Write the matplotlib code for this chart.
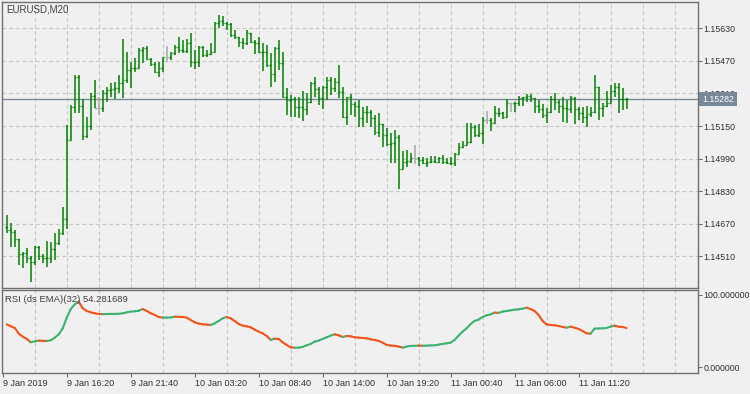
import matplotlib
matplotlib.use('Agg')
import matplotlib.pyplot as plt
import matplotlib.transforms as mtransforms
from matplotlib.collections import LineCollection
import numpy as np

#%% Data (EURUSD M20)
open_ = [1.14656, 1.14639, 1.14628, 1.14593, 1.14521, 1.14525, 1.14500, 1.14484, 1.14557, 1.14512,
         1.14500, 1.14503, 1.14544, 1.14574, 1.14623, 1.14692, 1.15081, 1.15242, 1.15389, 1.15248,
         1.15101, 1.15152, 1.15297, 1.15237, 1.15237, 1.15310, 1.15327, 1.15330, 1.15335, 1.15360,
         1.15376, 1.15425, 1.15433, 1.15436, 1.15523, 1.15532, 1.15478, 1.15455, 1.15417, 1.15433,
         1.15487, 1.15487, 1.15507, 1.15540, 1.15523, 1.15520, 1.15556, 1.15466, 1.15463, 1.15540,
         1.15499, 1.15502, 1.15515, 1.15658, 1.15668, 1.15658, 1.15651, 1.15597, 1.15586, 1.15564,
         1.15559, 1.15605, 1.15564, 1.15556, 1.15515, 1.15512, 1.15450, 1.15406, 1.15532, 1.15461,
         1.15294, 1.15278, 1.15281, 1.15242, 1.15245, 1.15232, 1.15270, 1.15363, 1.15330, 1.15286,
         1.15340, 1.15376, 1.15335, 1.15368, 1.15319, 1.15196, 1.15291, 1.15258, 1.15248, 1.15188,
         1.15220, 1.15217, 1.15188, 1.15122, 1.15160, 1.15106, 1.15062, 1.15065, 1.15094, 1.14937,
         1.14975, 1.14978, 1.14991, 1.14991, 1.14983, 1.14970, 1.14975, 1.14980, 1.14975, 1.14991,
         1.14975, 1.14970, 1.14967, 1.15013, 1.15049, 1.15057, 1.15073, 1.15147, 1.15106, 1.15117,
         1.15180, 1.15180, 1.15166, 1.15212, 1.15216, 1.15196, 1.15261, 1.15261, 1.15264, 1.15286,
         1.15291, 1.15297, 1.15286, 1.15248, 1.15232, 1.15204, 1.15220, 1.15281, 1.15270, 1.15248,
         1.15237, 1.15234, 1.15286, 1.15232, 1.15212, 1.15196, 1.15209, 1.15220, 1.15340, 1.15237,
         1.15248, 1.15261, 1.15324, 1.15340, 1.15281, 1.15284]

high = [1.14713, 1.14675, 1.14639, 1.14595, 1.14530, 1.14549, 1.14512, 1.14561, 1.14561, 1.14521,
        1.14587, 1.14582, 1.14623, 1.14643, 1.14754, 1.15155, 1.15253, 1.15401, 1.15401, 1.15281,
        1.15196, 1.15310, 1.15376, 1.15294, 1.15327, 1.15340, 1.15363, 1.15368, 1.15401, 1.15576,
        1.15515, 1.15466, 1.15482, 1.15532, 1.15540, 1.15543, 1.15482, 1.15466, 1.15466, 1.15491,
        1.15543, 1.15515, 1.15548, 1.15586, 1.15573, 1.15576, 1.15605, 1.15523, 1.15543, 1.15543,
        1.15523, 1.15559, 1.15663, 1.15695, 1.15690, 1.15663, 1.15654, 1.15622, 1.15586, 1.15581,
        1.15622, 1.15605, 1.15573, 1.15589, 1.15556, 1.15548, 1.15507, 1.15540, 1.15573, 1.15515,
        1.15335, 1.15302, 1.15294, 1.15294, 1.15324, 1.15314, 1.15368, 1.15389, 1.15340, 1.15347,
        1.15389, 1.15389, 1.15384, 1.15450, 1.15343, 1.15294, 1.15307, 1.15270, 1.15278, 1.15242,
        1.15248, 1.15229, 1.15204, 1.15212, 1.15160, 1.15139, 1.15117, 1.15130, 1.15106, 1.15029,
        1.15032, 1.15019, 1.15057, 1.14999, 1.14996, 1.14991, 1.15003, 1.15003, 1.14999, 1.15008,
        1.14991, 1.14996, 1.15019, 1.15065, 1.15078, 1.15166, 1.15166, 1.15155, 1.15160, 1.15196,
        1.15225, 1.15188, 1.15248, 1.15237, 1.15220, 1.15281, 1.15261, 1.15270, 1.15297, 1.15294,
        1.15307, 1.15307, 1.15286, 1.15278, 1.15258, 1.15237, 1.15297, 1.15314, 1.15278, 1.15291,
        1.15278, 1.15297, 1.15294, 1.15245, 1.15242, 1.15248, 1.15242, 1.15401, 1.15343, 1.15261,
        1.15324, 1.15351, 1.15360, 1.15360, 1.15335, 1.15286]

low = [1.14623, 1.14554, 1.14554, 1.14467, 1.14451, 1.14475, 1.14385, 1.14467, 1.14492, 1.14475,
       1.14459, 1.14475, 1.14492, 1.14566, 1.14615, 1.14643, 1.15081, 1.15212, 1.15212, 1.15081,
       1.15090, 1.15130, 1.15237, 1.15204, 1.15220, 1.15270, 1.15294, 1.15281, 1.15310, 1.15286,
       1.15360, 1.15335, 1.15417, 1.15450, 1.15458, 1.15474, 1.15445, 1.15409, 1.15389, 1.15417,
       1.15466, 1.15474, 1.15499, 1.15510, 1.15507, 1.15510, 1.15442, 1.15428, 1.15442, 1.15491,
       1.15487, 1.15499, 1.15540, 1.15630, 1.15641, 1.15622, 1.15586, 1.15576, 1.15540, 1.15527,
       1.15548, 1.15556, 1.15504, 1.15510, 1.15422, 1.15442, 1.15340, 1.15368, 1.15425, 1.15286,
       1.15204, 1.15196, 1.15193, 1.15188, 1.15176, 1.15204, 1.15261, 1.15294, 1.15253, 1.15232,
       1.15278, 1.15302, 1.15319, 1.15286, 1.15188, 1.15155, 1.15204, 1.15196, 1.15144, 1.15147,
       1.15163, 1.15147, 1.15106, 1.15098, 1.15049, 1.15052, 1.14970, 1.14970, 1.14839, 1.14937,
       1.14950, 1.14967, 1.14963, 1.14954, 1.14963, 1.14947, 1.14967, 1.14970, 1.14970, 1.14963,
       1.14963, 1.14958, 1.14954, 1.15013, 1.15040, 1.15057, 1.15065, 1.15098, 1.15098, 1.15062,
       1.15160, 1.15127, 1.15163, 1.15193, 1.15183, 1.15193, 1.15220, 1.15220, 1.15248, 1.15248,
       1.15270, 1.15270, 1.15212, 1.15216, 1.15188, 1.15163, 1.15212, 1.15229, 1.15212, 1.15171,
       1.15166, 1.15212, 1.15160, 1.15180, 1.15163, 1.15147, 1.15196, 1.15216, 1.15180, 1.15193,
       1.15242, 1.15281, 1.15294, 1.15216, 1.15229, 1.15232]

close = [1.14639, 1.14628, 1.14593, 1.14521, 1.14525, 1.14500, 1.14484, 1.14557, 1.14512, 1.14500,
         1.14503, 1.14544, 1.14574, 1.14623, 1.14692, 1.15081, 1.15242, 1.15389, 1.15248, 1.15101,
         1.15152, 1.15297, 1.15237, 1.15237, 1.15310, 1.15327, 1.15330, 1.15335, 1.15360, 1.15376,
         1.15425, 1.15433, 1.15436, 1.15523, 1.15532, 1.15478, 1.15455, 1.15417, 1.15433, 1.15487,
         1.15487, 1.15507, 1.15540, 1.15523, 1.15520, 1.15556, 1.15466, 1.15463, 1.15540, 1.15499,
         1.15502, 1.15515, 1.15658, 1.15668, 1.15658, 1.15651, 1.15597, 1.15586, 1.15564, 1.15559,
         1.15605, 1.15564, 1.15556, 1.15515, 1.15512, 1.15450, 1.15406, 1.15532, 1.15461, 1.15294,
         1.15278, 1.15281, 1.15242, 1.15245, 1.15232, 1.15270, 1.15363, 1.15330, 1.15286, 1.15340,
         1.15376, 1.15335, 1.15368, 1.15319, 1.15196, 1.15291, 1.15258, 1.15248, 1.15188, 1.15220,
         1.15217, 1.15188, 1.15122, 1.15160, 1.15106, 1.15062, 1.15065, 1.15094, 1.14937, 1.14975,
         1.14978, 1.14991, 1.14991, 1.14983, 1.14970, 1.14975, 1.14980, 1.14975, 1.14991, 1.14975,
         1.14970, 1.14967, 1.15013, 1.15049, 1.15057, 1.15073, 1.15147, 1.15106, 1.15117, 1.15180,
         1.15180, 1.15166, 1.15212, 1.15216, 1.15196, 1.15261, 1.15261, 1.15264, 1.15286, 1.15291,
         1.15297, 1.15286, 1.15248, 1.15232, 1.15204, 1.15220, 1.15281, 1.15270, 1.15248, 1.15237,
         1.15234, 1.15286, 1.15232, 1.15212, 1.15196, 1.15209, 1.15220, 1.15340, 1.15237, 1.15248,
         1.15261, 1.15324, 1.15340, 1.15281, 1.15284, 1.15282]

rsi = [59.4, 56.7, 54.4, 46.5, 42.4, 39.2, 34.6, 35.9, 36.9, 36.6,
       36.4, 37.3, 41.0, 45.6, 53.9, 68.7, 80.6, 87.1, 90.8, 81.6,
       77.9, 76.0, 74.7, 73.7, 73.5, 73.7, 73.8, 73.9, 74.0, 74.7,
       76.0, 77.0, 77.4, 78.3, 80.6, 77.9, 74.7, 72.4, 69.6, 68.7,
       68.8, 68.9, 70.0, 69.8, 69.6, 68.7, 65.4, 62.2, 60.4, 59.4,
       59.0, 58.5, 60.8, 64.1, 67.7, 69.6, 67.7, 64.1, 59.9, 57.6,
       56.7, 55.3, 52.1, 49.3, 47.0, 43.3, 37.8, 39.6, 39.2, 34.6,
       30.9, 27.6, 27.0, 27.2, 28.1, 30.4, 32.3, 35.5, 36.9, 39.2,
       41.5, 43.8, 45.6, 44.2, 41.9, 43.3, 42.9, 41.5, 41.0, 40.6,
       40.1, 38.7, 37.8, 36.4, 34.1, 30.9, 30.0, 29.7, 28.6, 27.2,
       28.6, 29.5, 29.7, 30.0, 29.8, 30.0, 30.2, 30.4, 31.3, 32.3,
       33.2, 34.1, 37.8, 43.8, 49.3, 53.9, 59.9, 64.1, 65.9, 69.6,
       71.9, 73.3, 75.6, 75.3, 77.0, 77.9, 78.8, 79.7, 80.2, 81.1,
       82.5, 80.6, 77.9, 72.4, 64.1, 59.4, 58.5, 58.1, 57.1, 55.8,
       54.8, 56.2, 54.8, 53.0, 50.2, 47.0, 46.5, 53.5, 53.7, 53.9,
       54.4, 56.2, 57.6, 56.2, 55.8, 54.281689]

price_ticks = [1.14510, 1.14670, 1.14830, 1.14990, 1.15150, 1.15310, 1.15470, 1.15630]
last_price = 1.15282
time_pos = [-1, 15, 31, 47, 63, 79, 95, 111, 127, 143]
time_labels = ['9 Jan 2019', '9 Jan 16:20', '9 Jan 21:40', '10 Jan 03:20', '10 Jan 08:40',
               '10 Jan 14:00', '10 Jan 19:20', '11 Jan 00:40', '11 Jan 06:00', '11 Jan 11:20']

#%% Style
BG = '#f0f0f0'
FRAME = '#707070'
GRID = '#c8c8c8'
BAR_UP = '#008000'
BAR_DOJI = '#a8a8a8'
RSI_UP = '#3cb371'
RSI_DN = '#f2541b'
TXT = '#303030'
plt.rcParams['font.family'] = ['Liberation Sans', 'DejaVu Sans']

W, H = 750, 394
fig = plt.figure(figsize=(W / 100, H / 100), dpi=100, facecolor=BG)
left, right = 2.3, 697.5
ax = fig.add_axes([left / W, (H - 287.5) / H, (right - left) / W, (287.5 - 2.3) / H])
ax2 = fig.add_axes([left / W, (H - 372.7) / H, (right - left) / W, (372.7 - 290.3) / H])

xlim = (-1.12, 172.75)
grid_pos = np.arange(7, 172, 8)

for a in (ax, ax2):
    a.set_facecolor(BG)
    for s in a.spines.values():
        s.set_color(FRAME)
        s.set_linewidth(1.0)
    a.set_xlim(*xlim)
    a.yaxis.tick_right()
    a.tick_params(axis='y', direction='out', length=2.6, width=0.8, color=FRAME,
                  pad=1.5, labelsize=6.3, labelcolor=TXT)
    a.set_xticks(grid_pos, minor=True)
    a.tick_params(axis='x', which='minor', length=0)
    a.grid(True, axis='x', which='minor', color=GRID, lw=0.8, ls=(0, (3.5, 2.5)))

#%% Price bars
o = np.array(open_)
h = np.array(high)
l = np.array(low)
c = np.array(close)
idx = np.arange(len(c))
cols = np.where(o == c, BAR_DOJI, BAR_UP)
top = np.maximum(h, np.maximum(o, c))
bot = np.minimum(l, np.minimum(o, c))
ax.vlines(idx, bot, top, colors=cols, lw=1.1, zorder=3)
ax.hlines(o, idx - 0.42, idx, colors=cols, lw=1.0, zorder=3)
ax.hlines(c, idx, idx + 0.42, colors=cols, lw=1.0, zorder=3)

ax.set_ylim(1.143569, 1.157579)
ax.set_yticks(price_ticks)
ax.set_yticklabels([f'{p:.5f}' for p in price_ticks])
ax.set_xticks([])
ax.grid(True, axis='y', color=GRID, lw=0.8, ls=(0, (3.5, 2.5)))
ax.set_axisbelow(True)

ax.axhline(last_price, color='#7d8b99', lw=1.0, zorder=2)
trans = mtransforms.blended_transform_factory(ax.transAxes, ax.transData)
ax.text(1 + 4.5 / (right - left), last_price, f'{last_price:.5f}', transform=trans,
        ha='left', va='center', fontsize=6.3, color='white', clip_on=False, zorder=6,
        bbox=dict(boxstyle='square,pad=0.3', fc='#778899', ec='none'))

fig.text(6.5 / W, 1 - 9.5 / H, 'EURUSD,M20', fontsize=7, color='#404040', va='center')

#%% RSI panel
r = np.array(rsi)
pts = np.column_stack([idx, r])
segs = np.stack([pts[:-1], pts[1:]], axis=1)
seg_cols = [RSI_UP if r[i + 1] > r[i] else RSI_DN for i in range(len(r) - 1)]
lc = LineCollection(segs, colors=seg_cols, linewidths=1.5, capstyle='round', zorder=3)
ax2.add_collection(lc)

ax2.set_ylim(-7.5, 106.5)
ax2.set_yticks([0, 100])
ax2.set_yticklabels(['0.000000', '100.000000'])
ax2.set_xticks(time_pos)
ax2.set_xticklabels(time_labels, ha='left')
ax2.tick_params(axis='x', which='major', direction='out', length=2.6, width=0.8,
                color=FRAME, pad=2.0, labelsize=6.5, labelcolor=TXT)
ax2.set_axisbelow(True)

fig.text(5 / W, 1 - 299.5 / H, 'RSI (ds EMA)(32) 54.281689', fontsize=6.8,
         color='#404040', va='center')

fig.savefig('out.png', dpi=100, facecolor=BG)
